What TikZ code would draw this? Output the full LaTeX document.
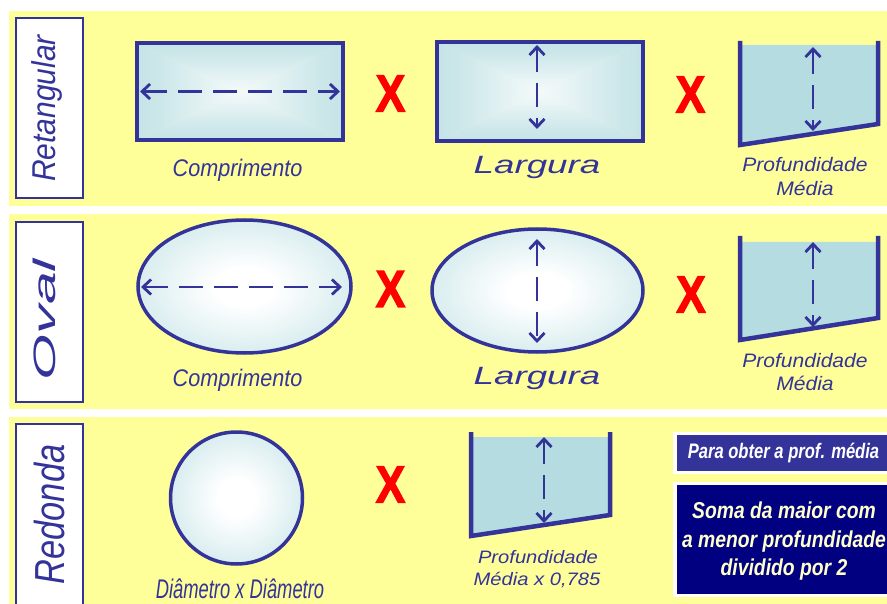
\documentclass[tikz,border=0pt]{standalone}
\usepackage{fontspec}
\setmainfont{Liberation Sans}
\newfontfamily\heavyx[FakeBold=2.5]{Liberation Sans}
\usepackage{graphicx}
\usetikzlibrary{arrows.meta}
\definecolor{bandyellow}{HTML}{FFFF99}
\definecolor{poolblue}{HTML}{B5DCE0}
\definecolor{inkblue}{HTML}{333399}
\definecolor{navyfill}{HTML}{000080}
\definecolor{paleyellow}{HTML}{FFFFCC}
\pgfdeclareverticalshading{boxgrad}{100bp}{color(0bp)=(white); color(15bp)=(white); color(65bp)=(poolblue!70!white); color(100bp)=(poolblue)}
\pgfdeclareradialshading{poolrad}{\pgfpoint{0bp}{0bp}}{color(0bp)=(white); color(7bp)=(white); color(30bp)=(poolblue!65!white); color(47bp)=(poolblue); color(50bp)=(poolblue)}
\newcommand\hsq[2]{\scalebox{#1}[1]{#2}}
\begin{document}
\begin{tikzpicture}[x=1pt,y=-1pt,
  band/.style={fill=bandyellow},
  labelbox/.style={fill=white,draw=inkblue,line width=2.5pt},
  labeltext/.style={text=inkblue,rotate=90,inner sep=0pt},
  poolline/.style={draw=inkblue,line width=3.5pt},
  wall/.style={draw=inkblue,line width=4.5pt,line join=miter},
  water/.style={fill=poolblue},
  dimarrow/.style={draw=inkblue,line width=2.8pt,dash pattern=on 24pt off 11pt,>={Straight Barb[length=8pt,width=15pt]},<->},
  timesmark/.style={text=red,inner sep=0pt,font=\fontsize{52}{52}\selectfont\heavyx\bfseries},
  captiontext/.style={text=inkblue,inner sep=0pt},
  noteA/.style={text=white,inner sep=0pt,font=\fontsize{21}{24}\selectfont\bfseries\itshape},
  noteB/.style={text=paleyellow,inner sep=0pt,anchor=base,font=\fontsize{23}{28}\selectfont\bfseries\itshape},
]
\useasboundingbox (0,0) rectangle (887,604);
\fill[white] (0,0) rectangle (887,604);
% bands
\path[band] (9,11) rectangle (887,206);
\path[band] (9,214) rectangle (887,409);
\path[band] (9,417) rectangle (887,604);
% label boxes
\draw[labelbox] (16,18) rectangle (83,198);
\draw[labelbox] (16,222) rectangle (83,402);
\draw[labelbox] (16,424) rectangle (83,612);
\node[labeltext,font=\fontsize{33}{33}\selectfont\itshape] (labrect) at (47,108.5) {\hsq{0.91}{Retangular}};
\node[labeltext,font=\fontsize{31}{31}\selectfont\itshape] (laboval) at (44.5,319.5) {\hsq{1.9}{Oval}};
\node[labeltext,font=\fontsize{42}{42}\selectfont\itshape] (labround) at (49,514.5) {\hsq{0.82}{Redonda}};

% ---------- Row 1 ----------
% rectangle 1
\shade[shading=boxgrad,shading angle=0] (137,43) -- (343,43) -- (240,91.5) -- cycle;
\shade[shading=boxgrad,shading angle=180] (137,140) -- (343,140) -- (240,91.5) -- cycle;
\shade[shading=boxgrad,shading angle=90] (137,43) -- (137,140) -- (240,91.5) -- cycle;
\shade[shading=boxgrad,shading angle=270] (343,43) -- (343,140) -- (240,91.5) -- cycle;
\draw[poolline] (137,43) rectangle (343,140);
\coordinate (r1l) at (140,91.5);
\coordinate (r1r) at (340,91.5);
\draw[dimarrow] (r1l) -- (r1r);
\node[captiontext,font=\fontsize{24}{24}\selectfont\itshape] (comp1) at (237.5,170) {\hsq{0.9}{Comprimento}};
\node[timesmark] (x11) at (390.5,93.5) {\hsq{0.85}{X}};
% rectangle 2
\shade[shading=boxgrad,shading angle=0] (437,42) -- (643,42) -- (540,91.5) -- cycle;
\shade[shading=boxgrad,shading angle=180] (437,141) -- (643,141) -- (540,91.5) -- cycle;
\shade[shading=boxgrad,shading angle=90] (437,42) -- (437,141) -- (540,91.5) -- cycle;
\shade[shading=boxgrad,shading angle=270] (643,42) -- (643,141) -- (540,91.5) -- cycle;
\draw[poolline] (437,42) rectangle (643,141);
\coordinate (r2t) at (537,45);
\coordinate (r2b) at (537,129);
\draw[dimarrow] (r2t) -- (r2b);
\node[captiontext,font=\fontsize{25}{25}\selectfont\itshape] (larg1) at (537,167.5) {\hsq{1.47}{Largura}};
\node[timesmark] (x12) at (690.5,94.5) {\hsq{0.85}{X}};
% section 1
\fill[water] (740,45) -- (878,45) -- (878,124) -- (740,145) -- cycle;
\draw[wall] (740,41) -- (740,145) -- (878,124) -- (878,41);
\coordinate (s1t) at (813,47);
\coordinate (s1b) at (813,131);
\draw[dimarrow] (s1t) -- (s1b);
\node[captiontext,anchor=base,font=\fontsize{19.5}{19.5}\selectfont\itshape] (prof1) at (805,172) {\hsq{1.08}{Profundidade}};
\node[captiontext,anchor=base,font=\fontsize{19.5}{19.5}\selectfont\itshape] (media1) at (805,196) {\hsq{1.08}{Média}};

% ---------- Row 2 ----------
\shade[shading=poolrad] (244.5,286.5) ellipse [x radius=106.5,y radius=66.5];
\draw[poolline] (244.5,286.5) ellipse [x radius=106.5,y radius=66.5];
\coordinate (e1l) at (141,287);
\coordinate (e1r) at (342,287);
\draw[dimarrow] (e1l) -- (e1r);
\node[captiontext,font=\fontsize{24}{24}\selectfont\itshape] (comp2) at (237.5,380) {\hsq{0.9}{Comprimento}};
\node[timesmark] (x21) at (390.5,289) {\hsq{0.85}{X}};
\shade[shading=poolrad] (537.5,290.5) ellipse [x radius=105.5,y radius=61.5];
\draw[poolline] (537.5,290.5) ellipse [x radius=105.5,y radius=61.5];
\coordinate (e2t) at (537,239);
\coordinate (e2b) at (537,343);
\draw[dimarrow] (e2t) -- (e2b);
\node[captiontext,font=\fontsize{25}{25}\selectfont\itshape] (larg2) at (537,378) {\hsq{1.47}{Largura}};
\node[timesmark] (x22) at (691,294.5) {\hsq{0.85}{X}};
\fill[water] (740,242) -- (878,242) -- (878,318) -- (740,340) -- cycle;
\draw[wall] (740,236) -- (740,340) -- (878,318) -- (878,236);
\coordinate (s2t) at (813,242);
\coordinate (s2b) at (813,327);
\draw[dimarrow] (s2t) -- (s2b);
\node[captiontext,anchor=base,font=\fontsize{19.5}{19.5}\selectfont\itshape] (prof2) at (805,367) {\hsq{1.08}{Profundidade}};
\node[captiontext,anchor=base,font=\fontsize{19.5}{19.5}\selectfont\itshape] (media2) at (805,390) {\hsq{1.08}{Média}};

% ---------- Row 3 ----------
\shade[shading=poolrad] (236.5,498) circle [radius=66];
\draw[poolline] (236.5,498) circle [radius=66];
\node[captiontext,anchor=base,font=\fontsize{27}{27}\selectfont\itshape] (diam) at (240,598) {\hsq{0.68}{Diâmetro x Diâmetro}};
\node[timesmark] (x31) at (390.5,484.5) {\hsq{0.85}{X}};
\fill[water] (471,437) -- (610,437) -- (610,515) -- (471,536) -- cycle;
\draw[wall] (471,432) -- (471,536) -- (610,515) -- (610,432);
\coordinate (s3t) at (544,437);
\coordinate (s3b) at (544,523);
\draw[dimarrow] (s3t) -- (s3b);
\node[captiontext,anchor=base,font=\fontsize{18}{18}\selectfont\itshape] (prof3) at (538,563) {\hsq{1.12}{Profundidade}};
\node[captiontext,anchor=base,font=\fontsize{18}{18}\selectfont\itshape] (media3) at (537,585) {\hsq{1.12}{Média x 0,785}};

% notes
\fill[white] (673,432) rectangle (892,474);
\fill[inkblue] (677,435) rectangle (892,471);
\node[noteA] (para) at (783.5,452.5) {\hsq{0.79}{Para obter a prof. média}};
\fill[white] (673,482) rectangle (892,597);
\fill[navyfill] (677,485) rectangle (892,594);
\node[noteB] (soma1) at (784,518) {\hsq{0.84}{Soma da maior com}};
\node[noteB] (soma2) at (784,547) {\hsq{0.84}{a menor profundidade}};
\node[noteB] (soma3) at (784,575) {\hsq{0.84}{dividido por 2}};
\end{tikzpicture}
\end{document}
